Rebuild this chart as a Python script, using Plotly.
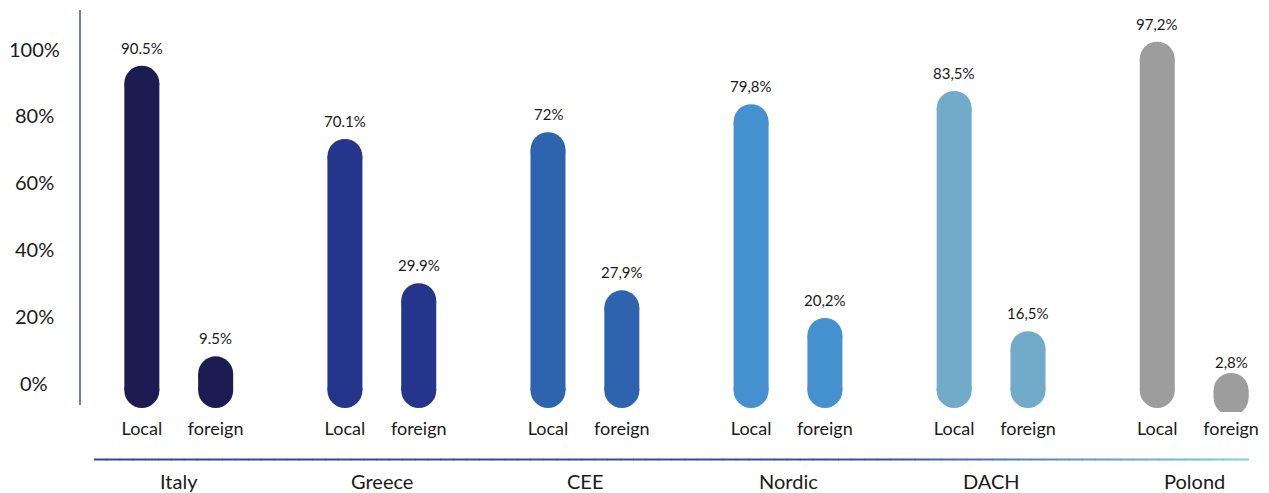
import plotly.graph_objects as go

# ---------------- data ----------------
groups = ["Italy", "Greece", "CEE", "Nordic", "DACH", "Polond"]
local_vals = [90.5, 70.1, 72.0, 79.8, 83.5, 97.2]
foreign_vals = [9.5, 29.9, 27.9, 20.2, 16.5, 2.8]
local_labels = ["90.5%", "70.1%", "72%", "79,8%", "83,5%", "97,2%"]
foreign_labels = ["9.5%", "29.9%", "27,9%", "20,2%", "16,5%", "2,8%"]
bar_names = ["Local", "foreign"]
y_tick_vals = [0, 20, 40, 60, 80, 100]
y_tick_text = ["0%", "20%", "40%", "60%", "80%", "100%"]

# ---------------- style ----------------
group_colors = ["#1c1b52", "#25358c", "#2e63ae", "#4590cf", "#72abca", "#9d9d9d"]
FONT = "Lato, 'Noto Sans', sans-serif"
TXT = "#1a1a1a"
PAIR_OFFSET = 0.3635
BAR_PX = 35
BAR_BASE = -4.9

W, H = 1269, 493
ML, MR, MT, MB = 80, 10, 10, 81
PW = W - ML - MR
PH = H - MT - MB
PLOT_BOTTOM = H - MB

# axis pixel scales
X0 = -62 / 203.6
X1 = X0 + PW / 203.6
Y_ZERO, Y_SCALE = 383.0, 3.345
Y2_ZERO, Y2_SCALE = 390.4, 3.587
R = (BAR_PX / 2) / Y2_SCALE  # cap radius in y2 data units


def px_to_paper_y(py):
    return (PLOT_BOTTOM - py) / PH


def px_to_paper_x(px):
    return (px - ML) / PW


x_local = [i for i in range(len(groups))]
x_foreign = [i + PAIR_OFFSET for i in range(len(groups))]

fig = go.Figure()

# pill-shaped bars: thick line between cap centres + round markers as caps
for i, g in enumerate(groups):
    xs, ys = [], []
    for x, v in [(x_local[i], local_vals[i]), (x_foreign[i], foreign_vals[i])]:
        xs += [x, x, None]
        ys += [BAR_BASE + R, v - R, None]
    fig.add_trace(go.Scatter(
        x=xs, y=ys, yaxis="y2", mode="lines+markers", name=g,
        line=dict(color=group_colors[i], width=BAR_PX),
        marker=dict(color=group_colors[i], size=BAR_PX, line=dict(width=0)),
        showlegend=False, hoverinfo="skip", connectgaps=False))

annotations = []
# value labels
for xs, vals, labs in [(x_local, local_vals, local_labels), (x_foreign, foreign_vals, foreign_labels)]:
    for x, v, t in zip(xs, vals, labs):
        annotations.append(dict(x=x, y=v, xref="x", yref="y2", text=t, showarrow=False,
                                yanchor="bottom", yshift=7,
                                font=dict(family=FONT, size=15, color=TXT)))
# y tick labels
for v, t in zip(y_tick_vals, y_tick_text):
    annotations.append(dict(x=0, y=v, xref="paper", yref="y", text=t, showarrow=False,
                            xanchor="center", xshift=-46, yanchor="middle",
                            font=dict(family=FONT, size=20, color=TXT)))
# group labels
for i, g in enumerate(groups):
    annotations.append(dict(x=i + PAIR_OFFSET / 2, y=px_to_paper_y(481), xref="x", yref="paper",
                            text=g, showarrow=False, yanchor="middle",
                            font=dict(family=FONT, size=20, color=TXT)))

shapes = []
# y axis line
shapes.append(dict(type="line", xref="paper", yref="paper", x0=0, x1=0,
                   y0=px_to_paper_y(405), y1=1, line=dict(color="#3a4fb0", width=1.5)))
# gradient baseline
stops = [(0.0, (0x33, 0x44, 0x9c)), (0.68, (0x3a, 0x4f, 0xa0)), (0.80, (0x55, 0x80, 0xb8)),
         (0.90, (0x6a, 0xaa, 0xc8)), (1.0, (0x82, 0xd2, 0xdc))]


def grad(t):
    for (t0, c0), (t1, c1) in zip(stops[:-1], stops[1:]):
        if t0 <= t <= t1:
            f = (t - t0) / (t1 - t0)
            return "rgb(%d,%d,%d)" % tuple(round(a + (b - a) * f) for a, b in zip(c0, c1))
    return "rgb(%d,%d,%d)" % stops[-1][1]


N = 90
x_start, x_end = px_to_paper_x(94), px_to_paper_x(1252)
yl = px_to_paper_y(459.5)
for k in range(N):
    a = x_start + (x_end - x_start) * k / N
    b = x_start + (x_end - x_start) * (k + 1.05) / N
    shapes.append(dict(type="line", xref="paper", yref="paper", x0=a, x1=min(b, x_end), y0=yl, y1=yl,
                       line=dict(color=grad((k + 0.5) / N), width=2)))

fig.update_layout(
    width=W, height=H,
    margin=dict(l=ML, r=MR, t=MT, b=MB),
    paper_bgcolor="white", plot_bgcolor="white",
    font=dict(family=FONT, color=TXT),
    xaxis=dict(range=[X0, X1], tickvals=x_local + x_foreign,
               ticktext=[bar_names[0]] * len(groups) + [bar_names[1]] * len(groups),
               tickfont=dict(size=18, color=TXT), showgrid=False, zeroline=False,
               showline=False, ticks="", ticklabelstandoff=4),
    yaxis=dict(range=[(Y_ZERO - PLOT_BOTTOM) / Y_SCALE, (Y_ZERO - MT) / Y_SCALE],
               showticklabels=False, showgrid=False, zeroline=False, showline=False, ticks=""),
    yaxis2=dict(range=[(Y2_ZERO - PLOT_BOTTOM) / Y2_SCALE, (Y2_ZERO - MT) / Y2_SCALE],
                overlaying="y", showticklabels=False, showgrid=False, zeroline=False,
                showline=False, ticks=""),
    annotations=annotations,
    shapes=shapes,
)

fig.write_html("out.html", config={"displayModeBar": False},
               post_script="document.body.style.margin='0';document.body.style.overflow='hidden';")
